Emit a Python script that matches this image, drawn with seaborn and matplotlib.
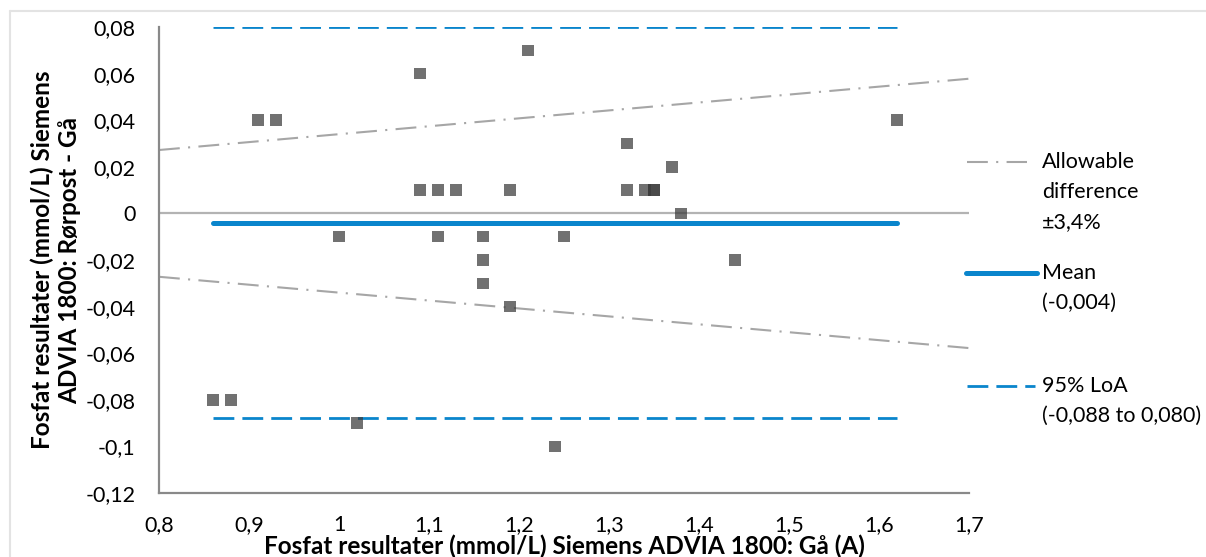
import matplotlib
matplotlib.use("Agg")
import matplotlib.pyplot as plt
from matplotlib.lines import Line2D
import seaborn as sns
import pandas as pd
import numpy as np

# ---------------- data ----------------
x_mean = [0.86, 0.88, 0.91, 0.93, 1.00, 1.02, 1.09, 1.09, 1.11, 1.11,
          1.13, 1.16, 1.16, 1.16, 1.19, 1.19, 1.21, 1.24, 1.25, 1.32,
          1.32, 1.34, 1.35, 1.35, 1.37, 1.38, 1.44, 1.62]
y_diff = [-0.08, -0.08, 0.04, 0.04, -0.01, -0.09, 0.06, 0.01, 0.01, -0.01,
          0.01, -0.01, -0.02, -0.03, 0.01, -0.04, 0.07, -0.10, -0.01, 0.03,
          0.01, 0.01, 0.01, 0.01, 0.02, 0.00, -0.02, 0.04]
mean_diff = -0.004
loa_low = -0.088
loa_high = 0.080
allow_pct = 0.034

x_ticks = [0.8, 0.9, 1.0, 1.1, 1.2, 1.3, 1.4, 1.5, 1.6, 1.7]
x_tick_labels = ["0,8", "0,9", "1", "1,1", "1,2", "1,3", "1,4", "1,5", "1,6", "1,7"]
y_ticks = [0.08, 0.06, 0.04, 0.02, 0.0, -0.02, -0.04, -0.06, -0.08, -0.10, -0.12]
y_tick_labels = ["0,08", "0,06", "0,04", "0,02", "0", "-0,02", "-0,04", "-0,06",
                 "-0,08", "-0,1", "-0,12"]

x_label = "Fosfat resultater (mmol/L) Siemens ADVIA 1800: Gå (A)"
y_label = "Fosfat resultater (mmol/L) Siemens\nADVIA 1800: Rørpost - Gå"
legend_allow = ["Allowable", "difference", "±3,4%"]
legend_mean = ["Mean", "(-0,004)"]
legend_loa = ["95% LoA", "(-0,088 to 0,080)"]

# ---------------- style ----------------
sns.set_theme(style="white")
plt.rcParams["font.family"] = ["Lato", "DejaVu Sans"]

BLUE = "#0A85CC"
GRAY_LINE = "#A6A6A6"
ZERO = "#B3B3B3"
SPINE = "#898989"
PT = "#3C3C3C"
FS = 15.5
FS_LAB = 17.5

W, H = 1206, 557
fig = plt.figure(figsize=(W / 100, H / 100), dpi=100)
fig.patch.set_facecolor("white")

def fx(px):
    return px / W

def fy(py):
    return 1 - py / H

ax_left, ax_right, ax_top, ax_bot = 159, 969, 27, 493
ax = fig.add_axes([fx(ax_left), fy(ax_bot), (ax_right - ax_left) / W, (ax_bot - ax_top) / H])

xlim = (x_ticks[0], x_ticks[-1])
ylim = (y_ticks[-1], y_ticks[0])

# zero line
ax.plot(list(xlim), [0, 0], color=ZERO, lw=1.6, zorder=1)

# allowable difference lines (±3.4 % of x)
xa = np.array(xlim)
dashdot = (10, 4, 1, 4)
ax.plot(xa, allow_pct * xa, color=GRAY_LINE, lw=1.5, dashes=dashdot, zorder=2)
ax.plot(xa, -allow_pct * xa, color=GRAY_LINE, lw=1.5, dashes=dashdot, zorder=2)

# mean and LoA between min and max x
xr = [min(x_mean), max(x_mean)]
ax.plot(xr, [mean_diff, mean_diff], color=BLUE, lw=3.6, solid_capstyle="round", zorder=3)
ax.plot(xr, [loa_high, loa_high], color=BLUE, lw=2.0, dashes=(7.5, 2.9), zorder=3)
ax.plot(xr, [loa_low, loa_low], color=BLUE, lw=2.0, dashes=(7.5, 2.9), zorder=3)

df = pd.DataFrame({"x": x_mean, "d": y_diff})
sns.scatterplot(data=df, x="x", y="d", marker="s", s=68, color=PT, alpha=0.73,
                edgecolor="none", linewidth=0, ax=ax, zorder=4)

ax.set_xlim(*xlim)
ax.set_ylim(*ylim)
ax.set_xticks(x_ticks)
ax.set_xticklabels(x_tick_labels)
ax.set_yticks(y_ticks)
ax.set_yticklabels(y_tick_labels)

for s in ["top", "right"]:
    ax.spines[s].set_visible(False)
for s in ["left", "bottom"]:
    ax.spines[s].set_color(SPINE)
    ax.spines[s].set_linewidth(1.6)

ax.tick_params(axis="both", direction="out", length=6, width=1.5, color=SPINE,
               labelsize=FS, labelcolor="black")
ax.tick_params(axis="y", pad=11)
ax.tick_params(axis="x", pad=10)
ax.set_facecolor("white")
ax.grid(False)

ax.set_xlabel(x_label, fontsize=FS_LAB, fontweight="bold", color="black", va="center")
ax.xaxis.set_label_coords(0.5, -(546 - ax_bot) / (ax_bot - ax_top))
ax.set_ylabel(y_label, fontsize=FS_LAB, fontweight="bold", color="black", va="center",
              linespacing=1.25)
ax.yaxis.set_label_coords(-(ax_left - 56) / (ax_right - ax_left), 0.5)

# ---------------- legend (drawn at right) ----------------
def add_handle(x0, x1, y, **kw):
    fig.add_artist(Line2D([fx(x0), fx(x1)], [fy(y), fy(y)], transform=fig.transFigure, **kw))

add_handle(967, 1027, 162, color=GRAY_LINE, lw=1.5, dashes=dashdot)
add_handle(966, 1037, 273, color=BLUE, lw=3.6, solid_capstyle="round")
add_handle(967, 1035, 386, color=BLUE, lw=2.0, dashes=(7.5, 2.9))

for lines, y0 in [(legend_allow, 162), (legend_mean, 273), (legend_loa, 386)]:
    for i, t in enumerate(lines):
        fig.text(fx(1042), fy(y0 + 30 * i), t, fontsize=FS, ha="left", va="center",
                 color="black")

# chart border (light)
fig.add_artist(Line2D([fx(10), 1.0], [fy(11), fy(11)], transform=fig.transFigure,
                      color="#E3E3E3", lw=1.5))
fig.add_artist(Line2D([fx(10), fx(10)], [fy(11), 0.0], transform=fig.transFigure,
                      color="#E3E3E3", lw=1.5))

fig.savefig("out.png", dpi=100, facecolor="white")
